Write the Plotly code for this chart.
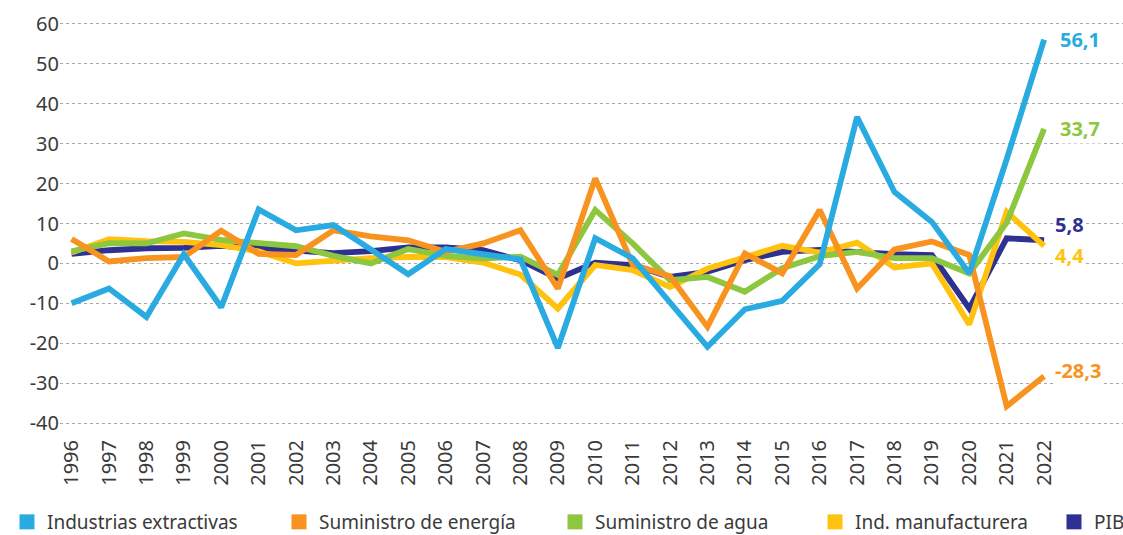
import plotly.graph_objects as go

years = list(range(1996, 2023))

extractivas = [-10.0, -6.3, -13.4, 2.3, -11.0, 13.5, 8.3, 9.6, 3.5, -2.7, 3.6, 2.2, 1.0,
               -21.2, 6.3, 1.3, -9.6, -20.9, -11.5, -9.4, -0.2, 36.7, 17.9, 10.4, -2.5, 26.1, 56.1]
energia = [6.1, 0.5, 1.3, 1.6, 8.2, 2.4, 2.1, 8.3, 6.8, 5.8, 2.9, 5.0, 8.3,
           -6.3, 21.3, -0.3, -3.2, -15.9, 2.5, -2.5, 13.4, -6.3, 3.5, 5.5, 2.1, -35.8, -28.3]
agua = [3.0, 5.1, 5.0, 7.5, 5.9, 5.1, 4.3, 1.9, 0.0, 3.6, 1.9, 1.2, 1.7,
        -2.9, 13.4, 5.0, -4.2, -3.4, -7.1, -1.2, 1.8, 2.9, 1.3, 1.3, -2.5, 10.2, 33.7]
manufacturera = [2.7, 6.1, 5.6, 5.4, 4.6, 3.0, 0.0, 0.8, 1.3, 1.6, 1.6, 0.2, -2.8,
                 -11.3, -0.4, -1.7, -5.9, -1.3, 1.7, 4.4, 2.7, 5.2, -1.0, 0.0, -15.3, 12.9, 4.4]
pib = [2.4, 3.3, 3.8, 3.9, 4.4, 3.8, 3.0, 2.6, 3.1, 4.0, 4.0, 3.3, 0.8,
       -3.8, 0.2, -0.4, -3.4, -2.1, 0.8, 2.9, 3.4, 2.7, 2.3, 2.1, -11.3, 6.3, 5.8]

y_ticks = list(range(-40, 61, 10))
y_labels = [str(v) for v in y_ticks]  # plain hyphen for negatives

# name, values, colour, end-label shift (x px, y px), legend position (px from left)
series = [
    ("Industrias extractivas", extractivas, "#29ABE2", 14, 0, 7),
    ("Suministro de energía", energia, "#F7931E", 9, 6, 279),
    ("Suministro de agua", agua, "#8DC63F", 14, 0, 555),
    ("Ind. manufacturera", manufacturera, "#FFC20E", 9, -10, 815),
    ("PIB", pib, "#2E3192", 9, 16, 1054),
]

W, H = 1123, 535
fig = go.Figure()

# lines: PIB at the bottom, extractivas on top
for name, vals, color, *_ in reversed(series):
    fig.add_trace(go.Scatter(
        x=years, y=vals, mode="lines", name=name, showlegend=False,
        line=dict(color=color, width=5.8), hoverinfo="x+y+name",
    ))

# one single-entry legend per series, so each square sits at its own spot
legend_layout = {}
for i, (name, vals, color, dx, dy, lx) in enumerate(series):
    key = "legend" if i == 0 else f"legend{i + 1}"
    fig.add_trace(go.Scatter(
        x=[None], y=[None], mode="markers", name=name, legend=key,
        marker=dict(symbol="square", size=15, color=color),
    ))
    legend_layout[key] = dict(
        x=lx / W, xanchor="left", y=(H - 522) / H, yanchor="middle",
        xref="container", yref="container", itemwidth=30,
        font=dict(family="Noto Sans", size=19, color="#3a3a3a"),
        bgcolor="rgba(0,0,0,0)",
    )

# value labels at the end of each line
for name, vals, color, dx, dy, lx in series:
    fig.add_annotation(
        x=years[-1], y=vals[-1], xref="x", yref="y",
        text=f"{vals[-1]:.1f}".replace(".", ","),
        showarrow=False, xanchor="left", yanchor="middle",
        xshift=dx, yshift=dy, bgcolor="white",
        font=dict(family="Open Sans", size=20, color=color, weight="bold"),
    )

fig.update_layout(
    width=W, height=H,
    margin=dict(l=60, r=0, t=20, b=108, autoexpand=False),
    paper_bgcolor="white", plot_bgcolor="white",
    font=dict(family="Noto Sans", color="#3a3a3a"),
    xaxis=dict(
        range=[1995.69, 2024.11], tickmode="array", tickvals=years,
        ticktext=[str(y) for y in years], tickangle=-90,
        tickfont=dict(size=20, color="#3a3a3a"), showgrid=False,
        zeroline=False, showline=False, ticks="", ticklabelstandoff=8,
    ),
    yaxis=dict(
        range=[-41, 61], tickmode="array", tickvals=y_ticks, ticktext=y_labels,
        tickfont=dict(size=20, color="#3a3a3a"),
        showgrid=True, gridcolor="#a8a8a8", gridwidth=1, griddash="dot",
        zeroline=False, showline=False, ticks="", ticklabelstandoff=0,
    ),
    **legend_layout,
)

fig.write_html("out.html")
